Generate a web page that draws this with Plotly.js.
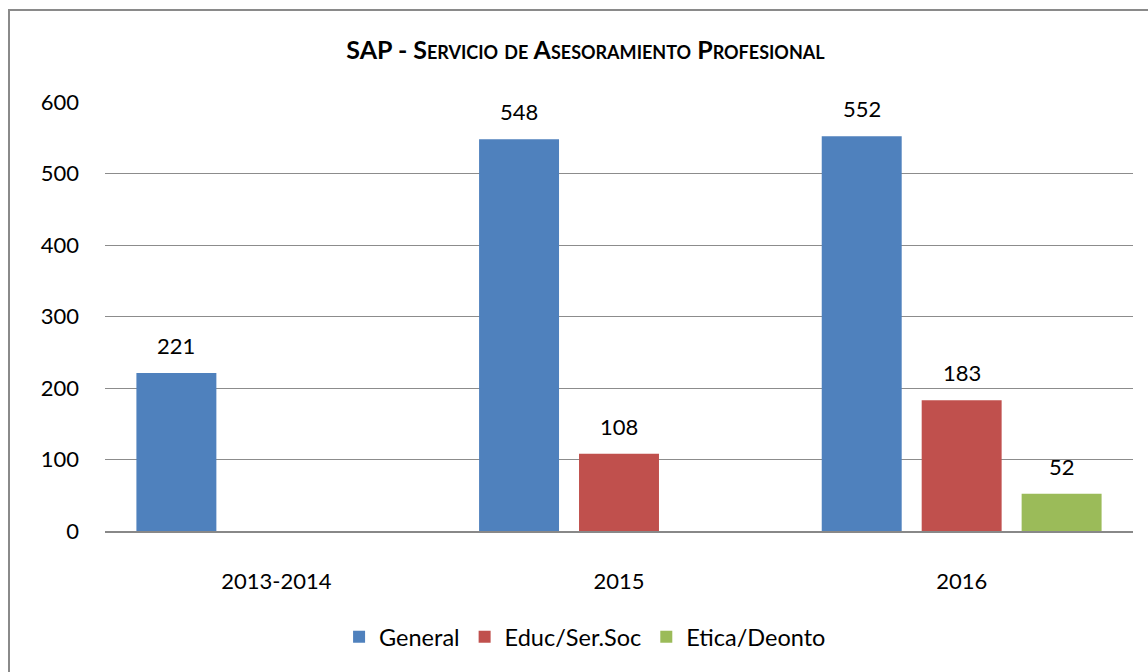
<!DOCTYPE html>
<html>
<head>
<meta charset="utf-8">
<script src="https://cdn.plot.ly/plotly-3.0.1.min.js"></script>
<style>
html,body{margin:0;padding:0;overflow:hidden;background:#fff;}
#chart{position:absolute;left:0;top:0;width:1148px;height:672px;}
#frame{position:absolute;left:8px;top:9px;width:1160px;height:700px;border:2px solid #8a8a8a;pointer-events:none;}
</style>
</head>
<body>
<div id="chart"></div>
<div id="frame"></div>
<script>
const categories = ["2013-2014", "2015", "2016"];
const seriesNames = ["General", "Educ/Ser.Soc", "Etica/Deonto"];
const generalValues = [221, 548, 552];
const educValues = [null, 108, 183];
const eticaValues = [null, null, 52];
const colors = ["#4F81BD", "#C0504D", "#9BBB59"];
const yTicks = [0, 100, 200, 300, 400, 500, 600];

const FONT = "Lato, 'Open Sans', sans-serif";
const allSeries = [generalValues, educValues, eticaValues];

const traces = allSeries.map((vals, i) => ({
  type: "bar",
  name: seriesNames[i],
  x: categories,
  y: vals,
  marker: {color: colors[i]},
  hoverinfo: "x+y+name"
}));

// data labels as annotations, shifted to each bar's slot (x given as category index)
const slotShift = [-100, 0, 100];
const annotations = [];
allSeries.forEach((vals, i) => {
  vals.forEach((v, j) => {
    if (v === null) return;
    annotations.push({
      x: j, y: v, xref: "x", yref: "y",
      text: String(v), showarrow: false,
      xshift: slotShift[i], yshift: 12, yanchor: "bottom",
      font: {family: FONT, size: 22, color: "#000"}
    });
  });
});

function smallCaps(words) {
  return words.map(w => {
    const up = w.toUpperCase();
    if (w[0] === w[0].toUpperCase()) {
      return up[0] + '<span style="font-size:18px">' + up.slice(1) + '</span>';
    }
    return '<span style="font-size:18px">' + up + '</span>';
  }).join(' ');
}
const titleText = "SAP - " + smallCaps(["Servicio", "de", "Asesoramiento", "Profesional"]);

const layout = {
  width: 1148, height: 672,
  margin: {l: 105, r: 15, t: 102, b: 141},
  paper_bgcolor: "#fff", plot_bgcolor: "#fff",
  font: {family: FONT, size: 22, color: "#000"},
  title: {
    text: titleText,
    font: {family: FONT, size: 25, color: "#000", weight: "bold"},
    x: 0.51, xanchor: "center", y: 0.925, yanchor: "middle"
  },
  barmode: "group",
  bargap: 0.125,
  bargroupgap: 0.2,
  showlegend: true,
  legend: {
    orientation: "h", x: 0.467, xanchor: "center", y: -0.247, yanchor: "middle",
    font: {family: FONT, size: 23.5, color: "#000"},
    itemwidth: 30, tracegroupgap: 0
  },
  xaxis: {
    type: "category",
    range: [-0.5, 2.5], autorange: false,
    showgrid: false, zeroline: false,
    showline: true, linecolor: "#888", linewidth: 2,
    ticks: "", ticklabelstandoff: 30,
    tickfont: {family: FONT, size: 22, color: "#000"}
  },
  yaxis: {
    range: [0, 600], autorange: false,
    tickvals: yTicks,
    showgrid: true, gridcolor: "#8c8c8c", gridwidth: 1,
    zeroline: false, showline: false,
    ticks: "", ticklabelstandoff: 25,
    tickfont: {family: FONT, size: 22, color: "#000"}
  },
  annotations: annotations
};

Plotly.newPlot("chart", traces, layout, {displayModeBar: false, staticPlot: true});
</script>
</body>
</html>
